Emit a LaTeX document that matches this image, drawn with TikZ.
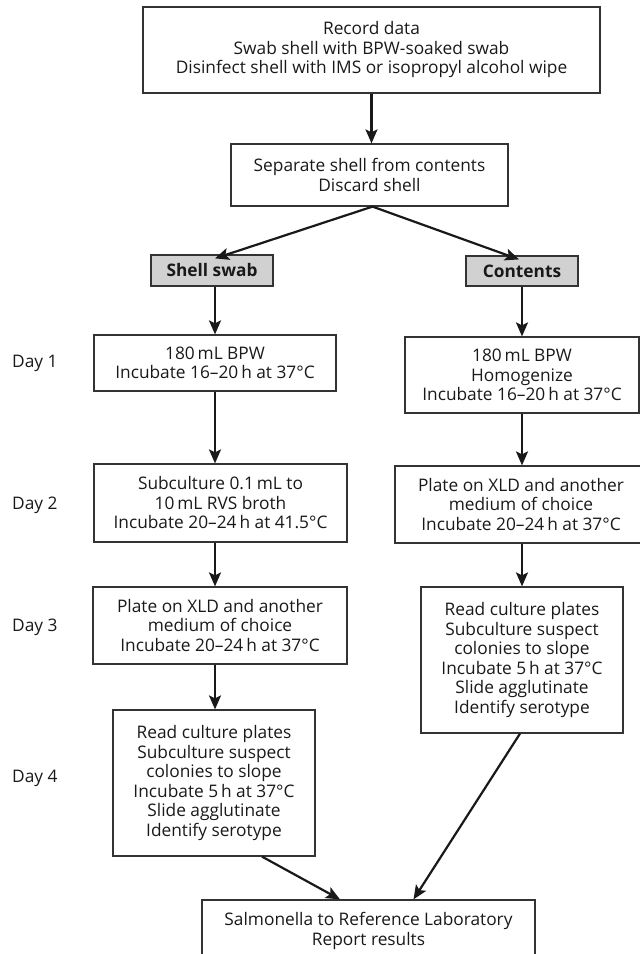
\documentclass[tikz,border=0pt]{standalone}
\usepackage{fontspec}
\setmainfont{Open Sans}
\usetikzlibrary{arrows.meta}

\tikzset{
  stepbox/.style={draw=black!80, line width=1.2pt, align=center, inner sep=0pt,
    text=black!90, font=\fontsize{17.3}{19.5}\selectfont},
  headbox/.style={stepbox, fill=black!18, font=\fontsize{17.3}{19.5}\selectfont\bfseries},
  daylabel/.style={anchor=west, inner sep=0pt, text=black!90, font=\fontsize{17.3}{19.5}\selectfont},
  flow/.style={line width=2.2pt, black!90, -{Stealth[length=14pt,width=12pt,inset=3pt]}}
}

\begin{document}
\begin{tikzpicture}[x=1pt,y=-1pt]
  \useasboundingbox (0,0) rectangle (640,954);

  \node[stepbox, minimum width=457, minimum height=86] (record) at (371.5,50)
    {Record data\\Swab shell with BPW-soaked swab\\Disinfect shell with IMS or isopropyl alcohol wipe};
  \node[stepbox, minimum width=277, minimum height=62] (separate) at (369.5,175)
    {Separate shell from contents\\Discard shell};

  \node[headbox, minimum width=122, minimum height=31] (swab) at (212,270.5) {Shell swab};
  \node[headbox, minimum width=112, minimum height=30] (contents) at (522,271) {Contents};

  \node[daylabel] (day1) at (12,363) {Day 1};
  \node[daylabel] (day2) at (12,505) {Day 2};
  \node[daylabel] (day3) at (12,627) {Day 3};
  \node[daylabel] (day4) at (12,778) {Day 4};

  \node[stepbox, minimum width=242, minimum height=56] (swabI) at (215,363)
    {180\,mL BPW\\Incubate 16–20\,h at 37°C};
  \node[stepbox, minimum width=253, minimum height=78] (swabII) at (220.5,503)
    {Subculture 0.1\,mL to\\10\,mL RVS broth\\Incubate 20–24\,h at 41.5°C};
  \node[stepbox, minimum width=254, minimum height=77] (swabIII) at (220,625.5)
    {Plate on XLD and another\\medium of choice\\Incubate 20–24\,h at 37°C};
  \node[stepbox, minimum width=202, minimum height=146] (swabIV) at (214,783)
    {Read culture plates\\Subculture suspect\\colonies to slope\\Incubate 5\,h at 37°C\\Slide agglutinate\\Identify serotype};

  \node[stepbox, minimum width=234, minimum height=76] (contI) at (522,375)
    {180\,mL BPW\\Homogenize\\Incubate 16–20\,h at 37°C};
  \node[stepbox, minimum width=252, minimum height=77] (contII) at (521,504.5)
    {Plate on XLD and another\\medium of choice\\Incubate 20–24\,h at 37°C};
  \node[stepbox, minimum width=202, minimum height=146] (contIII) at (522,660)
    {Read culture plates\\Subculture suspect\\colonies to slope\\Incubate 5\,h at 37°C\\Slide agglutinate\\Identify serotype};

  \node[stepbox, minimum width=333, minimum height=62] (report) at (368.5,931)
    {Salmonella to Reference Laboratory\\Report results};

  \draw[flow] (record.south) -- (record.south |- separate.north);
  \draw[flow] ([xshift=3]separate.south) -- ([xshift=3,yshift=-4]swab.north);
  \draw[flow] ([xshift=3]separate.south) -- ([xshift=-3,yshift=-4]contents.north);

  \draw[flow] ([xshift=3]swab.south) -- ([xshift=3]swab.south |- swabI.north);
  \draw[flow] (swabI.south) -- (swabI.south |- swabII.north);
  \draw[flow] (swabI.south |- swabII.south) -- (swabI.south |- swabIII.north);
  \draw[flow] (swabI.south |- swabIII.south) -- (swabI.south |- swabIV.north);

  \draw[flow] (contents.south) -- (contents.south |- contI.north);
  \draw[flow] (contI.south) -- (contI.south |- contII.north);
  \draw[flow] (contI.south |- contII.south) -- (contI.south |- contIII.north);

  \draw[flow] ([xshift=48]swabIV.south) -- ([xshift=-28.5]report.north);
  \draw[flow] ([xshift=-2]contIII.south) -- ([xshift=45]report.north);
\end{tikzpicture}
\end{document}
